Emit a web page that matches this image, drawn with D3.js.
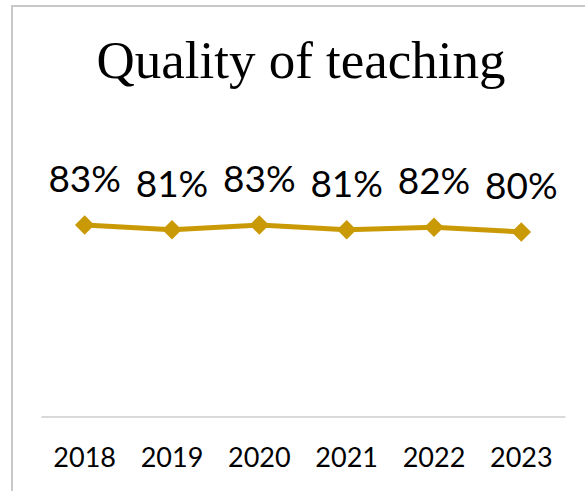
<!DOCTYPE html>
<meta charset="utf-8">
<style>
body { margin: 0; background: white; }
svg { display: block; }
.title { font-family: "Liberation Serif", "DejaVu Serif", serif; font-size: 53px; fill: #000; }
.lbl { font-family: Lato, "Open Sans", sans-serif; font-size: 37px; fill: #000; }
.axis text { font-family: Lato, "Open Sans", sans-serif; font-size: 27px; fill: #000; }
</style>
<body>
<svg width="585" height="491"></svg>
<script src="https://cdn.jsdelivr.net/npm/d3@7"></script>
<script>

var years = ["2018", "2019", "2020", "2021", "2022", "2023"];
var scores = [0.83, 0.81, 0.83, 0.81, 0.82, 0.80];

var svg = d3.select("svg");
var gold = "#c99a06";

// chart frame (only top and left edges show)
svg.append("rect")
  .attr("x", 12).attr("y", 6)
  .attr("width", 600).attr("height", 520)
  .attr("fill", "none")
  .attr("stroke", "#c8c8c8")
  .attr("stroke-width", 2);

svg.append("text")
  .attr("class", "title")
  .attr("x", 301).attr("y", 78)
  .attr("text-anchor", "middle")
  .text("Quality of teaching");

var x = d3.scaleBand()
  .domain(years)
  .range([41, 565]);

var y = d3.scaleLinear()
  .domain([0, 1])
  .range([416.5, 185.8]);

// category axis
var ax = svg.append("g")
  .attr("class", "axis")
  .attr("transform", "translate(0,416.5)")
  .call(d3.axisBottom(x).tickSize(0).tickPadding(31));
ax.select(".domain").attr("stroke", "#d9d9d9").attr("stroke-width", 2);
ax.selectAll("text").attr("dy", "0.71em");

var cx = function(d, i) { return x(years[i]) + x.bandwidth() / 2; };

var line = d3.line()
  .x(cx)
  .y(function(d) { return y(d); });

svg.append("path")
  .datum(scores)
  .attr("d", line)
  .attr("fill", "none")
  .attr("stroke", gold)
  .attr("stroke-width", 5);

svg.selectAll(".pt")
  .data(scores)
  .enter().append("path")
    .attr("class", "pt")
    .attr("d", d3.symbol(d3.symbolSquare, 190))
    .attr("fill", gold)
    .attr("transform", function(d, i) {
      return "translate(" + cx(d, i) + "," + y(d) + ") rotate(45)";
    });

svg.selectAll(".lbl")
  .data(scores)
  .enter().append("text")
    .attr("class", "lbl")
    .attr("x", cx)
    .attr("y", function(d) { return y(d) - 33; })
    .attr("text-anchor", "middle")
    .text(function(d) { return Math.round(d * 100) + "%"; });

</script>
</body>
